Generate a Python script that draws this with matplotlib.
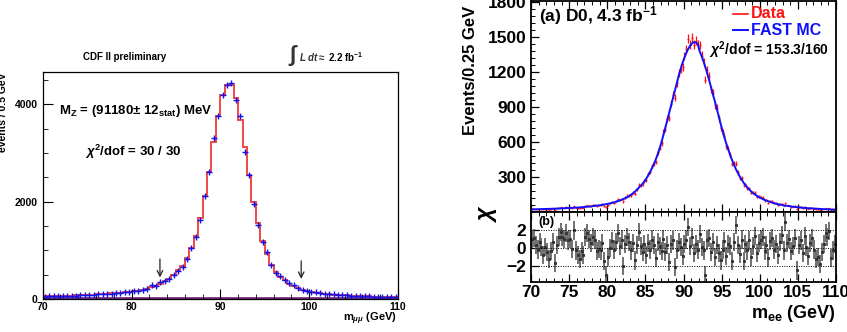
import matplotlib
matplotlib.use('Agg')
import matplotlib.pyplot as plt
import numpy as np

plt.rcParams['font.family'] = ['Liberation Sans', 'DejaVu Sans']
plt.rcParams['font.weight'] = 'bold'
plt.rcParams['mathtext.fontset'] = 'custom'
plt.rcParams['mathtext.rm'] = 'Liberation Sans:bold'
plt.rcParams['mathtext.it'] = 'Liberation Sans:italic'
plt.rcParams['mathtext.bf'] = 'Liberation Sans:bold'

# ---- CDF: m_mumu, 0.5 GeV bins from 70 to 110
cdf_edges = np.arange(70, 110.01, 0.5)
cdf_fit = [52, 54, 56, 59, 62, 65, 68, 72, 76, 80,
           85, 90, 95, 101, 107, 114, 122, 130, 139, 149,
           160, 173, 188, 207, 240, 275, 315, 360, 420, 502,
           590, 674, 832, 1052, 1292, 1656, 2117, 2612, 3216, 3766,
           4179, 4385, 4385, 4124, 3677, 3113, 2543, 2000, 1567, 1189,
           914, 708, 557, 454, 385, 316, 261, 227, 192, 168,
           148, 132, 119, 108, 99, 91, 84, 78, 73, 68,
           64, 60, 57, 54, 51, 48, 46, 44, 42, 40]
cdf_data = [50, 56, 55, 60, 63, 64, 70, 71, 78, 79,
            86, 88, 97, 99, 109, 112, 124, 128, 141, 147,
            163, 170, 192, 205, 289, 270, 350, 365, 412, 495,
            584, 660, 811, 1051, 1278, 1615, 2117, 2598, 3306, 3766,
            4179, 4385, 4433, 4076, 3766, 3024, 2543, 1959, 1519, 1168,
            969, 701, 536, 467, 385, 330, 296, 230, 195, 170,
            150, 135, 117, 110, 97, 93, 82, 80, 72, 70,
            62, 61, 55, 56, 50, 49, 45, 45, 41, 40]
cdf_bkg = [22] * 80
cdf_arrows = [83.2, 99.1]
cdf_arrow_top = [880, 840]
cdf_arrow_tip = [385, 356]

# ---- D0: m_ee, 0.25 GeV bins from 70 to 110
d0_edges = np.arange(70, 110.001, 0.25)
d0_mc = [20, 20, 21, 21, 22, 22, 23, 23, 24, 24,
         25, 25, 26, 27, 27, 28, 29, 30, 31, 31,
         32, 33, 34, 35, 36, 37, 38, 40, 41, 43,
         44, 46, 48, 50, 52, 54, 56, 59, 62, 65,
         68, 72, 76, 80, 85, 90, 96, 102, 109, 116,
         124, 133, 145, 158, 172, 188, 205, 222, 240, 260,
         285, 312, 342, 375, 410, 450, 495, 545, 600, 660,
         722, 786, 850, 915, 980, 1045, 1108, 1168, 1225, 1277,
         1323, 1363, 1398, 1425, 1445, 1455, 1452, 1440, 1375, 1335,
         1290, 1240, 1185, 1127, 1065, 1002, 945, 882, 818, 754,
         690, 635, 582, 532, 485, 442, 402, 365, 332, 302,
         275, 250, 228, 208, 190, 174, 160, 147, 136, 126,
         117, 109, 101, 95, 89, 83, 78, 73, 69, 65,
         61, 58, 55, 52, 50, 47, 45, 43, 41, 39,
         37, 36, 34, 33, 31, 30, 29, 28, 27, 26,
         25, 24, 23, 22, 21, 21, 20, 19, 19, 18]
d0_chi = [1.0, 1.1, 0.3, -0.2, 0.6, 0.1, -0.8, 0.1, -0.5, -1.2,
          -0.4, 0.6, -1.7, 0.3, 1.2, 1.7, 1.2, 1.0, 1.6, 0.8,
          1.0, -0.1, 1.9, -0.3, -0.8, -1.2, -0.4, -0.8, 1.2, 1.6,
          1.0, 0.5, 1.2, 0.9, -0.4, -0.1, -0.3, 0.5, -1.5, -3.0,
          -1.0, 0.0, 0.7, -0.2, 0.6, 1.6, 0.2, 0.9, -2.0, 0.4,
          1.2, 0.6, -0.3, 0.5, -1.4, 0.3, 1.7, 0.2, -0.5, 0.4,
          -0.8, 0.5, -0.2, 0.9, 0.3, -1.1, 0.6, 0.2, -0.4, 1.0,
          -0.5, 0.3, -1.6, 0.4, 0.8, -2.1, -0.2, 0.6, 0.1, -0.9,
          0.4, 0.9, 2.3, 0.2, 1.2, -0.6, 0.4, -0.2, 1.5, 0.1,
          -0.3, -3.0, 0.8, 1.1, -0.5, 0.6, -1.0, 0.3, -0.6, -1.4,
          -0.2, 0.7, -0.9, 0.4, 0.2, -1.5, 0.6, 2.5, 0.3, -0.7,
          0.9, -1.5, 0.4, -0.3, 0.8, -1.0, 0.2, 1.3, -0.6, 0.5,
          0.9, 1.2, -0.4, 0.3, -1.1, 0.7, 1.1, -0.2, 0.4, -0.8,
          0.6, 1.4, -0.3, 2.8, 0.5, 1.0, -0.4, 0.2, 1.1, -2.5,
          0.3, 0.8, -0.6, 1.3, 0.1, -0.9, 0.5, 1.1, -0.2, -1.2,
          -1.0, -1.8, -0.5, 0.4, 1.6, 1.2, 1.8, -1.1, -0.3, 0.4]

fig = plt.figure(figsize=(8.47, 3.32), dpi=100)

# ================= left: CDF =================
ax1 = fig.add_axes([42.7/847, 1-299/332, 355.3/847, 227/332])
c1 = 0.5*(cdf_edges[:-1] + cdf_edges[1:])
ax1.stairs(cdf_bkg, cdf_edges, color='#7a2a80', lw=2)
ax1.stairs(cdf_fit, cdf_edges, color='#f04848', lw=1.4)
ax1.plot(c1, cdf_data, '+', color='#1010ee', ms=4, mew=1.0)
for xa, yt, yb in zip(cdf_arrows, cdf_arrow_top, cdf_arrow_tip):
    ax1.annotate('', xy=(xa, yb), xytext=(xa, yt),
                 arrowprops=dict(arrowstyle='->', color='#222222', lw=0.9))
ax1.set_xlim(70, 110)
ax1.set_ylim(0, 4660)
ax1.set_xticks([70, 80, 90, 100, 110])
ax1.set_xticks(np.arange(70, 110.1, 2), minor=True)
ax1.set_yticks([0, 2000, 4000])
ax1.set_yticks(np.arange(0, 4660, 500), minor=True)
ax1.tick_params(which='both', direction='in', labelsize=7.5, top=False, right=False)
ax1.tick_params(which='major', length=7, width=0.8)
ax1.tick_params(which='minor', length=3.5, width=0.6)
ax1.tick_params(axis='x', pad=2.5)
for s in ax1.spines.values():
    s.set_linewidth(0.9)
ax1.text(0.045, 0.83, r'M$_{\rm Z}$ = (91180$\pm$ 12$_{\rm stat}$) MeV', transform=ax1.transAxes,
         fontsize=9.5, va='center')
ax1.text(0.12, 0.65, r'$\chi^{2}$/dof = 30 / 30', transform=ax1.transAxes,
         fontsize=9.5, va='center')
fig.text(125/847, 1-57/332, 'CDF II preliminary', fontsize=7, ha='center', va='center')
fig.text(288/847, 1-56/332, r'$\int$', fontsize=16, ha='left', va='center', color='#333333')
fig.text(299/847, 1-57/332, r'$L\ dt \approx$', fontsize=7, ha='left', va='center', color='#333333')
fig.text(328/847, 1-57/332, r'2.2 fb$^{-1}$', fontsize=7, ha='left', va='center')
fig.text(3/847, 1-72/332, 'events / 0.5 GeV', fontsize=7.5, rotation=90, ha='center', va='top')
fig.text(397/847, 1-319/332, r'm$_{\mu\mu}$ (GeV)', fontsize=8, ha='right', va='center')

# ================= right: D0 =================
ax2 = fig.add_axes([531/847, 1-211.7/332, 305/847, 210.7/332])
ax3 = fig.add_axes([531/847, 1-282/332, 305/847, 70.3/332])
mc = np.array(d0_mc, dtype=float)
chi = np.array(d0_chi)
d0_data = mc + chi*np.sqrt(mc)
d0_err = np.sqrt(d0_data)
c2 = 0.5*(d0_edges[:-1] + d0_edges[1:])
ax2.errorbar(c2, d0_data, yerr=d0_err, xerr=0.125, fmt='none', ecolor='#ff1010', elinewidth=0.9)
ax2.plot(c2, mc, color='#1010ff', lw=1.4)
ax2.set_xlim(70, 110)
ax2.set_ylim(0, 1808)
ax2.set_yticks([300, 600, 900, 1200, 1500, 1800])
ax2.set_yticks(np.arange(0, 1801, 60), minor=True)
ax2.set_xticks(np.arange(70, 110.1, 5))
ax2.set_xticks(np.arange(70, 110.1, 1), minor=True)
ax2.tick_params(labelbottom=False)
ax2.text(0.025, 0.93, r'(a) D0, 4.3 fb$^{-1}$', transform=ax2.transAxes, fontsize=12.5, va='center')
ax2.plot([96.5, 98.5], [1700, 1700], color='#ff1010', lw=1.2)
ax2.text(98.8, 1700, 'Data', color='#ff1010', fontsize=11.5, va='center')
ax2.plot([96.5, 98.5], [1555, 1555], color='#1010ff', lw=1.4)
ax2.text(98.8, 1555, 'FAST MC', color='#1010ff', fontsize=11.5, va='center')
ax2.text(93.4, 1390, r'$\chi^{2}$/dof = 153.3/160', fontsize=10, va='center')

ax3.errorbar(c2, chi, yerr=1.0, xerr=0.125, fmt='none', ecolor='#666666', elinewidth=1.3)
ax3.plot(c2, chi, 's', color='#333333', ms=1.2)
for yv in [-2, 0, 2]:
    ax3.axhline(yv, color='black', lw=0.7, ls=(0, (1, 1.5)))
ax3.set_xlim(70, 110)
ax3.set_ylim(-3.77, 3.96)
ax3.set_yticks([-2, 0, 2])
ax3.set_xticks(np.arange(70, 110.1, 5))
ax3.set_xticks(np.arange(70, 110.1, 1), minor=True)
ax3.text(0.025, 0.86, '(b)', transform=ax3.transAxes, fontsize=9, va='center')

for ax in (ax2, ax3):
    ax.tick_params(which='both', direction='in', top=True, right=False, labelsize=12.5)
    ax.tick_params(which='major', length=6, width=0.9)
    ax.tick_params(which='minor', length=3, width=0.7)
    for s in ax.spines.values():
        s.set_linewidth(1.3)
ax3.tick_params(axis='x', pad=2)

fig.text(470/847, 1-135/332, 'Events/0.25 GeV', fontsize=12, rotation=90, ha='center', va='bottom')
fig.text(487/847, 1-205/332, r'$\chi$', fontsize=17, rotation=90, ha='center', va='top')
fig.text(836/847, 1-314/332, r'm$_{\rm ee}$ (GeV)', fontsize=13, ha='right', va='center')

fig.savefig('out.png', dpi=100)
